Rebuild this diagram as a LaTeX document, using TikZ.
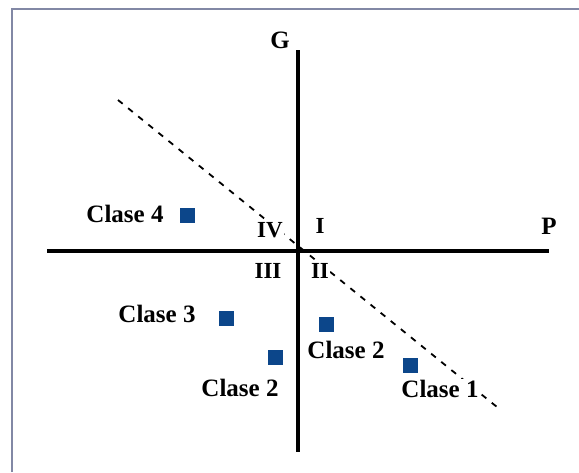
\documentclass[tikz,border=0pt]{standalone}
\usepackage{fontspec}
\setmainfont{Liberation Serif}
\usepackage{xcolor}
\usetikzlibrary{positioning}

\definecolor{clasecol}{RGB}{12,70,138}
\definecolor{framecol}{RGB}{130,136,165}

\begin{document}
\begin{tikzpicture}[
    x=1pt, y=-1pt,
    axis/.style={line width=3.6pt, black},
    divide/.style={line width=1.8pt, dash pattern=on 6pt off 7pt},
    lbl/.style={inner sep=0pt, fill=white, font=\fontsize{25}{27}\selectfont\bfseries},
    quad/.style={lbl, inner sep=1pt, font=\fontsize{23}{25}\selectfont\bfseries},
    clase/.style={rectangle, fill=clasecol, minimum size=15pt, inner sep=0pt},
    every node/.style={}
]
\useasboundingbox (0,0) rectangle (579,472);
\draw[framecol, line width=2.5pt] (12,472) -- (12,9) -- (579,9);
% dividing line
\coordinate (dtop) at (118,100);
\coordinate (dbot) at (497,407);
\draw[divide] (dtop) -- (dbot);
% quadrants
\node[quad] (q1) at (320,226) {I};
\node[quad] (q4) at (270,230) {IV};
\node[quad] (q3) at (268,271) {III};
\node[quad] (q2) at (320,271) {II};
% axes
\coordinate (gtop) at (298,50);
\coordinate (gbot) at (298,452);
\coordinate (pleft) at (47,251);
\coordinate (pright) at (549,251);
\draw[axis] (gtop) -- (gbot);
\draw[axis] (pleft) -- (pright);
\node[lbl] (g) at (280,40) {G};
\node[lbl] (p) at (549,226) {P};
% classes
\node[clase] (c4) at (187,215) {};
\node[lbl] (c4t) at (125,214) {Clase 4};
\node[clase] (c3) at (226,318) {};
\node[lbl] (c3t) at (157,314) {Clase 3};
\node[clase] (c2a) at (275,357) {};
\node[lbl] (c2at) at (240,388) {Clase 2};
\node[clase] (c2b) at (326,324) {};
\node[lbl] (c2bt) at (346,350) {Clase 2};
\node[clase] (c1) at (410,365) {};
\node[lbl, inner sep=1pt] (c1t) at (440,389) {Clase 1};
\end{tikzpicture}
\end{document}
